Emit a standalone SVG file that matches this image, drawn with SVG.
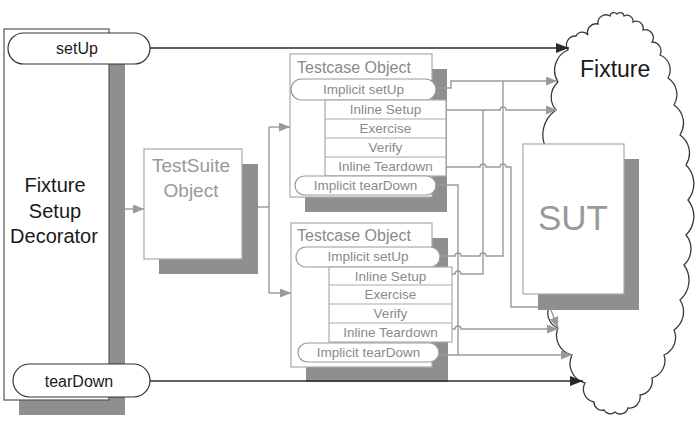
<svg xmlns="http://www.w3.org/2000/svg" width="696" height="421" viewBox="0 0 696 421">
<defs>
<style>
.shadow{fill:#8f8f92;stroke:none}
.box{fill:#fff;stroke:#aaa;stroke-width:1.2}
.pill{fill:#fff;stroke:#999;stroke-width:1.2}
.dpill{fill:#fff;stroke:#333;stroke-width:1.2}
.t{font-family:"Liberation Sans",Arial,sans-serif}
.g{fill:#8a8a8a}
.k{fill:#1a1a1a}
.row{font-size:13.5px;text-anchor:middle}
.conn{fill:none;stroke:#9a9a9a;stroke-width:1.4}
.blk{fill:none;stroke:#2a2a2a;stroke-width:1.5}
</style>
<marker id="ga" markerUnits="userSpaceOnUse" markerWidth="11" markerHeight="9" refX="11" refY="4.5" orient="auto"><path d="M0,0 L11,4.5 L0,9 z" fill="#9a9a9a"/></marker>
<marker id="ka" markerUnits="userSpaceOnUse" markerWidth="13" markerHeight="10" refX="13" refY="5" orient="auto"><path d="M0,0 L13,5 L0,10 z" fill="#2a2a2a"/></marker>
</defs>

<g id="fixture">
<path d="M547,150 A30,30 0 0 1 556,110 A20,20 0 0 1 558,82 A22,22 0 0 1 568,50 A9,9 0 0 1 576,36 A7,7 0 0 1 588,35 A8.5,8.5 0 0 1 598,24 A8,8 0 0 1 610,16 A4,4 0 0 1 617,14 A4,4 0 0 1 624,16 A6,6 0 0 1 633,22 A7,7 0 0 1 643,30 A8,8 0 0 1 652,42 A9,9 0 0 1 660,55 A16,16 0 0 1 668,78 A20,20 0 0 1 674,105 A22,22 0 0 1 680,135 A22,22 0 0 1 686,165 A26,26 0 0 1 688,200 A26,26 0 0 1 686,235 A22,22 0 0 1 684,265 A26,26 0 0 1 680,300 A22,22 0 0 1 674,330 A19,19 0 0 1 664,355 A18,18 0 0 1 652,378 A14,14 0 0 1 640,395 A11,11 0 0 1 628,408 A8,8 0 0 1 615,412 A7,7 0 0 1 604,410 A8,8 0 0 1 594,402 A13,13 0 0 1 585,383 A20,20 0 0 1 572,355 A20,20 0 0 1 558,328 A16,16 0 0 1 550,305 Z" fill="#fff" stroke="#3a3a3a" stroke-width="1.3"/>
<text class="t k" x="580" y="77" font-size="23">Fixture</text>
</g>

<g id="decorator">
<rect class="shadow" x="19" y="44" width="106" height="371"/>
<rect x="4" y="29" width="105" height="371" fill="#fff" stroke="#555" stroke-width="1.2"/>
<text class="t k" font-size="20" text-anchor="middle"><tspan x="55" y="192">Fixture</tspan><tspan x="55" y="217.5">Setup</tspan><tspan x="54" y="243">Decorator</tspan></text>
</g>
<g id="setUp">
<rect class="dpill" x="8" y="33" width="142" height="31" rx="15.5"/>
<text class="t k" x="77" y="53.5" font-size="16" text-anchor="middle">setUp</text>
</g>
<g id="tearDown">
<rect class="dpill" x="13" y="364" width="137" height="33" rx="16.5"/>
<text class="t k" x="79" y="386.5" font-size="16" text-anchor="middle">tearDown</text>
</g>

<g id="testsuite">
<rect class="shadow" x="159" y="164" width="99" height="110"/>
<rect class="box" x="144" y="149" width="98" height="110"/>
<text class="t" fill="#999" font-size="19" text-anchor="middle"><tspan x="191" y="172">TestSuite</tspan><tspan x="191" y="197">Object</tspan></text>
</g>

<g id="testcase1">
<rect class="shadow" x="305" y="69" width="142" height="143"/>
<rect class="box" x="290" y="54" width="142" height="143"/>
<text class="t g" x="297" y="73" font-size="16">Testcase Object</text>
<rect class="pill" x="291" y="79" width="145" height="21" rx="10.5"/>
<text class="t g row" x="363.5" y="94">Implicit setUp</text>
<rect class="box" x="325" y="100" width="121" height="76"/>
<path d="M325,119 H446 M325,138 H446 M325,157 H446" stroke="#aaa" stroke-width="1.2"/>
<text class="t g row" x="385.5" y="114">Inline Setup</text>
<text class="t g row" x="385.5" y="133">Exercise</text>
<text class="t g row" x="385.5" y="152">Verify</text>
<text class="t g row" x="385.5" y="170.5">Inline Teardown</text>
<rect class="pill" x="295" y="176" width="141" height="19" rx="9.5"/>
<text class="t g row" x="365.5" y="190">Implicit tearDown</text>
</g>

<g id="testcase2">
<rect class="shadow" x="306" y="238" width="142" height="144"/>
<rect class="box" x="291" y="223" width="141" height="144"/>
<text class="t g" x="297" y="241" font-size="16">Testcase Object</text>
<rect class="pill" x="296" y="247" width="144" height="20" rx="10"/>
<text class="t g row" x="368" y="261">Implicit setUp</text>
<rect class="box" x="329" y="267" width="123" height="75"/>
<path d="M329,285 H452 M329,304 H452 M329,323 H452" stroke="#aaa" stroke-width="1.2"/>
<text class="t g row" x="390.5" y="280.5">Inline Setup</text>
<text class="t g row" x="390.5" y="299">Exercise</text>
<text class="t g row" x="390.5" y="318">Verify</text>
<text class="t g row" x="390.5" y="337">Inline Teardown</text>
<rect class="pill" x="298" y="343" width="141" height="19" rx="9.5"/>
<text class="t g row" x="368.5" y="357">Implicit tearDown</text>
</g>

<g id="sut">
<rect class="shadow" x="538" y="159" width="101" height="151"/>
<rect class="box" x="523" y="144" width="101" height="150"/>
<text class="t" x="573" y="230" font-size="35" fill="#999" text-anchor="middle">SUT</text>
</g>

<g id="connectors">
<path class="blk" d="M150,48 H569" marker-end="url(#ka)"/>
<path class="blk" d="M150,381 H583" marker-end="url(#ka)"/>
<path class="conn" d="M125,209 H144" marker-end="url(#ga)"/>
<path class="conn" d="M258,207 H269"/>
<path class="conn" d="M269,127 V293"/>
<path class="conn" d="M269,127 H290" marker-end="url(#ga)"/>
<path class="conn" d="M269,293 H291" marker-end="url(#ga)"/>
<path class="conn" d="M436,88 H451 V81 H557" marker-end="url(#ga)"/>
<path class="conn" d="M446,110 H500 a3,3 0 0 1 6,0 H557" marker-end="url(#ga)"/>
<path class="conn" d="M446,167 H480 a3,3 0 0 1 6,0 H500 a3,3 0 0 1 6,0 H511 V307 H538"/>
<path class="conn" d="M436,185 H458 V355"/>
<path class="conn" d="M439,355 H572" marker-end="url(#ga)"/>
<path class="conn" d="M440,256 H455 a3,3 0 0 1 6,0 H480 a3,3 0 0 1 6,0 H503 V81"/>
<path class="conn" d="M452,274 H455 a3,3 0 0 1 6,0 H483 V110"/>
<path class="conn" d="M452,329 H455 a3,3 0 0 1 6,0 H558" marker-end="url(#ga)"/>
<path class="conn" d="M551,310 L558,328" marker-end="url(#ga)"/>
</g>
</svg>
